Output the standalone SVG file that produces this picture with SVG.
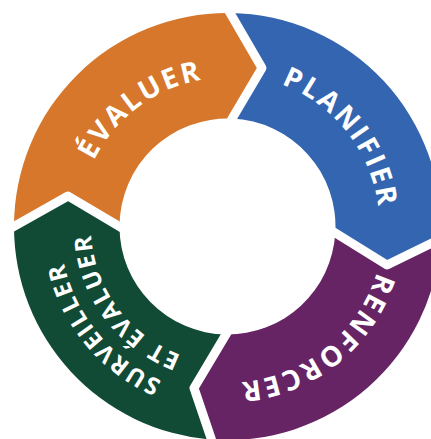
<svg xmlns="http://www.w3.org/2000/svg" width="431" height="439" viewBox="0 0 431 439">
  <style>
    .label { fill: #ffffff; font-family: "Open Sans", "Liberation Sans", sans-serif; font-weight: 700; font-size: 28px; letter-spacing: 2.5px; }
    .label.small { font-size: 24px; letter-spacing: 2px; }
    .gap { fill: none; stroke: #ffffff; stroke-width: 9; stroke-linejoin: round; stroke-linecap: butt; }
  </style>
  <defs>
    <!-- baseline arcs, all drawn clockwise around the ring centre (227.5, 226.5) -->
    <path id="arc-evaluer" d="M 94.3 293.2 A 149 149 0 0 1 329.9 118.2"/>
    <path id="arc-planifier" d="M 156.1 92.3 A 152 152 0 0 1 340.5 328.2"/>
    <path id="arc-renforcer" d="M 364.5 151.8 A 156 156 0 0 1 124.3 343.5"/>
    <path id="arc-surveiller" d="M 310.0 372.3 A 167.5 167.5 0 0 1 100.1 117.7"/>
    <path id="arc-et-evaluer" d="M 288.4 348.7 A 136.5 136.5 0 0 1 128.5 132.5"/>
  </defs>

  <rect width="431" height="439" fill="#ffffff"/>

  <!-- ring segments: each ends in a chevron tip pointing clockwise -->
  <g id="evaluer">
    <path fill="#D6772B" d="M 14 226.5 A 213.5 213.5 0 0 1 230 13 L 262 68 L 232 118.6 A 108 108 0 0 0 119.5 226.5 L 68 196 Z"/>
    <text class="label"><textPath href="#arc-evaluer" startOffset="50%" text-anchor="middle">ÉVALUER</textPath></text>
  </g>
  <g id="planifier">
    <path fill="#3365B0" d="M 230 13 A 213.5 213.5 0 0 1 440.6 238.8 L 387 265 L 335.3 233 A 108 108 0 0 0 232 118.6 L 262 68 Z"/>
    <text class="label"><textPath href="#arc-planifier" startOffset="50%" text-anchor="middle">PLANIFIER</textPath></text>
  </g>
  <g id="renforcer">
    <path fill="#662465" d="M 440.6 238.8 A 213.5 213.5 0 0 1 211.4 439.5 L 194 388 L 226 334.5 A 108 108 0 0 0 335.3 233 L 387 265 Z"/>
    <text class="label"><textPath href="#arc-renforcer" startOffset="50%" text-anchor="middle">RENFORCER</textPath></text>
  </g>
  <g id="surveiller">
    <path fill="#114A35" d="M 211.4 439.5 A 213.5 213.5 0 0 1 14 226.5 L 68 196 L 119.5 226.5 A 108 108 0 0 0 226 334.5 L 194 388 Z"/>
    <text class="label small"><textPath href="#arc-surveiller" startOffset="50%" text-anchor="middle">SURVEILLER</textPath></text>
    <text class="label small"><textPath href="#arc-et-evaluer" startOffset="50%" text-anchor="middle">ET ÉVALUER</textPath></text>
  </g>

  <!-- white chevron gaps between the segments -->
  <g id="connectors">
    <polyline class="gap" points="226,6 262,68 228,125.5"/>
    <polyline class="gap" points="447,235.7 387,265 329,229"/>
    <polyline class="gap" points="214,447 194,388 230,327.6"/>
    <polyline class="gap" points="7,230.4 68,196 126.4,230.6"/>
  </g>
</svg>
